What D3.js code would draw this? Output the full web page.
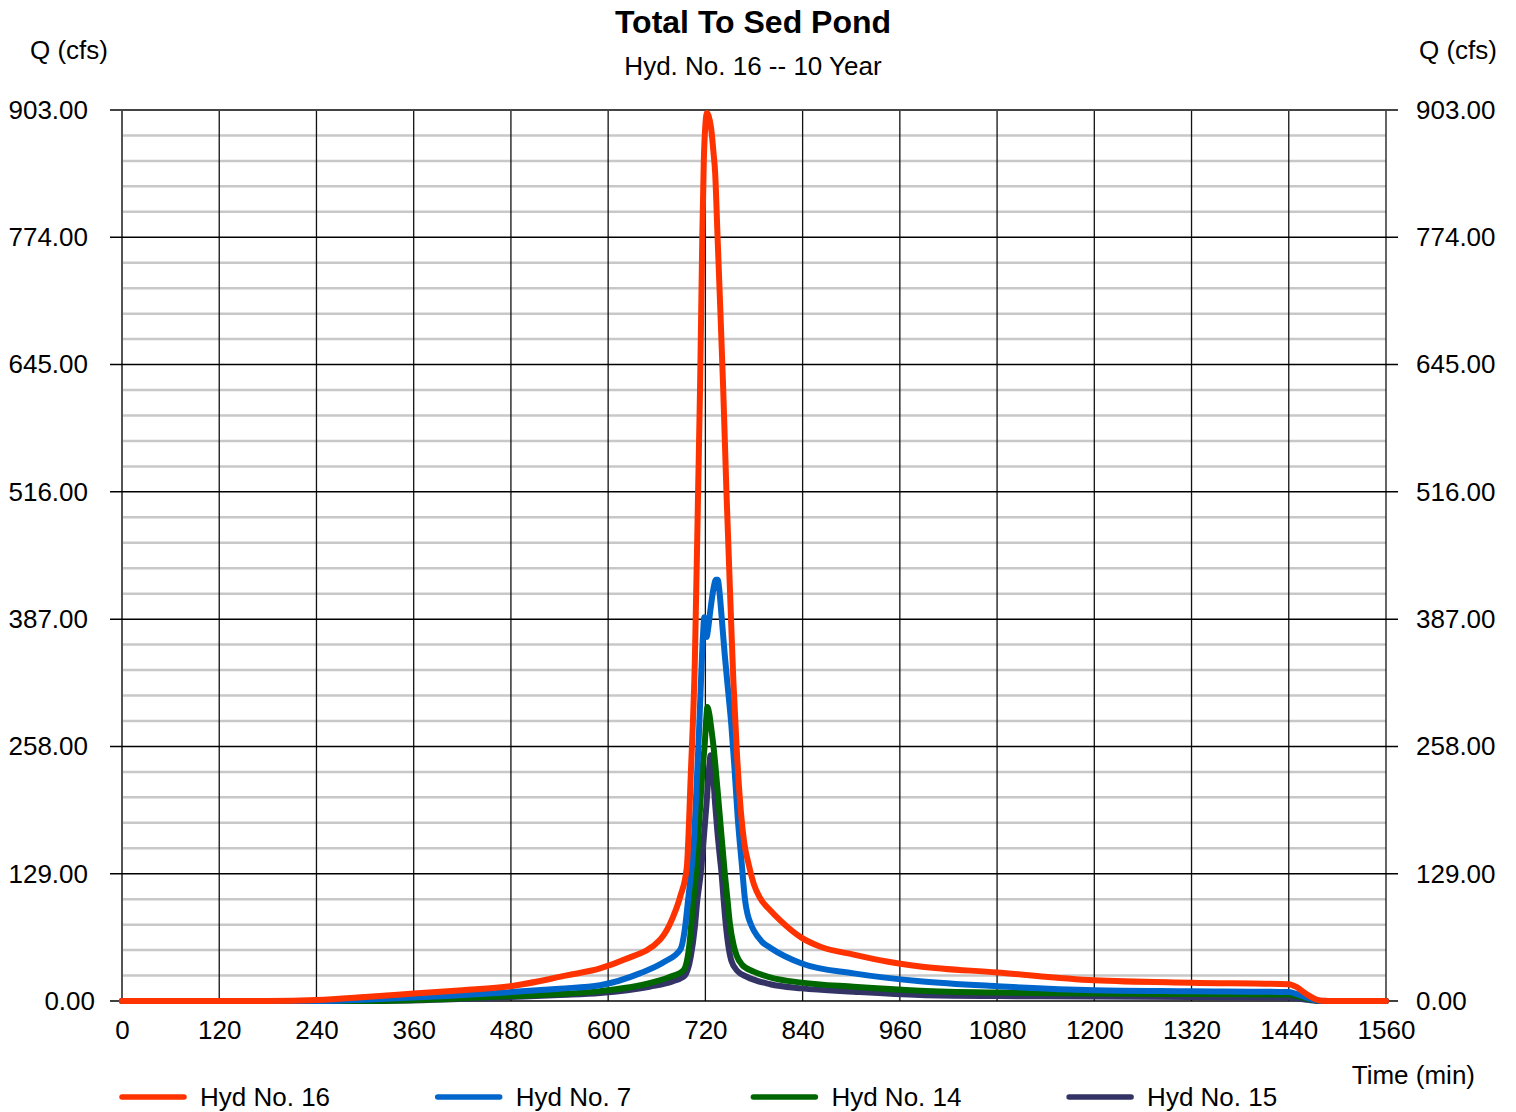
<!DOCTYPE html>
<meta charset="utf-8">
<head>
<style>
body { margin: 0; background: #fff; }
text { font-family: "Liberation Sans", Arial, sans-serif; fill: #000; }
.line { fill: none; stroke-width: 6px; stroke-linejoin: round; stroke-linecap: round; }
</style>
</head>
<body>
<script src="https://d3js.org/d3.v7.min.js"></script>
<script>

// x ticks (min) and y ticks (cfs)
var xTicks = [0, 120, 240, 360, 480, 600, 720, 840, 960, 1080, 1200, 1320, 1440, 1560];
var yTicks = [0, 129, 258, 387, 516, 645, 774, 903];

var seriesNames = ["Hyd No. 16", "Hyd No. 7", "Hyd No. 14", "Hyd No. 15"];
var seriesColors = ["#ff3300", "#0066cc", "#006600", "#333366"];

// Hyd No. 16 -- total
var hyd16Time = [0, 180, 240, 300, 360, 420, 479, 549, 590, 620, 664, 680, 689, 697, 702, 707, 711, 713.5, 716.2, 718, 720, 722, 724, 727, 730, 732, 735, 738, 742, 746, 751.6, 754.5, 759, 764, 768, 773, 780, 787, 800, 812, 839, 862, 903, 944, 985, 1080, 1200, 1320, 1440, 1450, 1460, 1470, 1478, 1490, 1560];
var hyd16Q    = [0, 0, 1, 4, 7.5, 11, 15, 26, 33, 42, 62, 85, 106, 135, 230, 345, 516, 625, 775, 850, 888, 900, 897, 885, 860, 840, 775, 710, 620, 516, 388, 325, 250, 190, 160, 140, 118, 105, 92, 82, 64, 55, 47, 40, 35, 29, 21, 18.5, 17, 14, 8, 3, 0.5, 0, 0];

// Hyd No. 7
var hyd7Time = [0, 240, 318, 400, 479, 540, 590, 639, 670, 689, 695, 699, 703, 706, 709, 712, 714.6, 717, 718.7, 720, 721.6, 723, 726, 730, 733, 735.2, 737, 740, 744, 748, 752, 756, 760, 765, 769, 772, 776, 780, 790, 800, 839, 903, 985, 1080, 1200, 1320, 1440, 1450, 1460, 1470, 1480, 1560];
var hyd7Q    = [0, 0, 2, 5, 9, 12.5, 16, 28, 40, 52, 75, 105, 135, 165, 215, 270, 325, 370, 389, 378, 369, 375, 395, 418, 427, 427, 418, 390, 350, 315, 280, 235, 185, 138, 102, 88, 78, 71, 60, 54, 38, 28, 20, 15, 11, 10, 9, 7, 4, 1.5, 0, 0];

// Hyd No. 14
var hyd14Time = [0, 300, 400, 479, 540, 590, 651, 675, 692.8, 700, 705, 708.4, 713, 717, 719, 721, 722.4, 725, 727, 730, 737, 744, 747, 750, 755, 758.6, 765, 779, 800, 839, 903, 985, 1080, 1200, 1320, 1440, 1450, 1460, 1470, 1480, 1560];
var hyd14Q    = [0, 0, 2, 5, 7, 10, 18, 24, 31, 55, 102, 129, 190, 240, 258, 285, 298, 290, 278, 258, 195, 129, 105, 80, 56, 46, 37, 30, 24, 18.6, 14.5, 10.5, 8.5, 7.5, 7, 6.5, 5, 3, 1, 0, 0];

// Hyd No. 15
var hyd15Time = [0, 300, 400, 479, 540, 590, 651, 680, 694.8, 702, 707, 710, 714.2, 718, 721.4, 724, 726.5, 729, 732, 735, 738, 740, 742, 744, 748, 752, 760, 771, 800, 839, 903, 985, 1080, 1200, 1320, 1440, 1450, 1460, 1470, 1480, 1560];
var hyd15Q    = [0, 0, 1.5, 4, 6, 8, 14.5, 20, 26, 45, 75, 102, 129, 165, 200, 230, 249, 235, 200, 170, 145, 129, 108, 88, 58, 41, 30, 24.6, 17, 12.8, 9.4, 6.1, 5, 4.5, 4, 3.5, 2.5, 1.5, 0.5, 0, 0];

var seriesTimes = [hyd16Time, hyd7Time, hyd14Time, hyd15Time];
var seriesQ = [hyd16Q, hyd7Q, hyd14Q, hyd15Q];

var W = 1516, H = 1112;
var margin = {top: 110, left: 122, right: 130, bottom: 111};
var width = W - margin.left - margin.right,
    height = H - margin.top - margin.bottom;

var x = d3.scaleLinear().domain([0, 1560]).range([0, width]);
var y = d3.scaleLinear().domain([0, 903]).range([height, 0]);

var svg = d3.select("body").append("svg")
    .attr("width", W)
    .attr("height", H);

var g = svg.append("g")
    .attr("transform", "translate(" + margin.left + "," + margin.top + ")");

// minor horizontal grid (5 per major step)
var minor = d3.range(0, 903.01, 25.8).filter(function(v) {
  return Math.abs(v / 129 - Math.round(v / 129)) > 0.01;
});
g.selectAll(".minor").data(minor).enter().append("line")
    .attr("x1", 0).attr("x2", width)
    .attr("y1", function(d) { return y(d); })
    .attr("y2", function(d) { return y(d); })
    .attr("stroke", "#c8c8c8").attr("stroke-width", 2.5);

// vertical grid
g.selectAll(".vgrid").data(xTicks).enter().append("line")
    .attr("x1", function(d) { return x(d); })
    .attr("x2", function(d) { return x(d); })
    .attr("y1", 0).attr("y2", height)
    .attr("stroke", function(d) { return d === 0 ? "#555" : "#111"; })
    .attr("stroke-width", function(d) { return d === 0 ? 2 : 1.3; });

// major horizontal grid (with ticks out both sides)
g.selectAll(".hgrid").data(yTicks).enter().append("line")
    .attr("x1", -12).attr("x2", width + 12)
    .attr("y1", function(d) { return y(d); })
    .attr("y2", function(d) { return y(d); })
    .attr("stroke", function(d) { return d === 903 ? "#444" : "#000"; })
    .attr("stroke-width", function(d) { return d === 903 ? 2 : 1.5; });

// left axis labels
var yl = g.append("g")
    .call(d3.axisLeft(y).tickValues(yTicks).tickSize(0).tickPadding(34)
      .tickFormat(d3.format(".2f")))
    .call(function(a) { a.select(".domain").remove(); });
yl.selectAll("text").style("font-size", "26px")
    .attr("dx", function(d) { return d === 0 ? 7 : 0; }); // 0.00 sits a bit further right

// right axis labels
g.append("g")
    .attr("transform", "translate(" + width + ",0)")
    .call(d3.axisRight(y).tickValues(yTicks).tickSize(0).tickPadding(30)
      .tickFormat(d3.format(".2f")))
    .call(function(a) { a.select(".domain").remove(); })
    .selectAll("text").style("font-size", "26px");

// bottom axis labels
g.append("g")
    .attr("transform", "translate(0," + height + ")")
    .call(d3.axisBottom(x).tickValues(xTicks).tickSize(0).tickPadding(20)
      .tickFormat(d3.format("d")))
    .call(function(a) { a.select(".domain").remove(); })
    .selectAll("text").style("font-size", "26px");

// series lines
var line = d3.line()
    .x(function(d) { return x(d[0]); })
    .y(function(d) { return y(d[1]); })
    .curve(d3.curveMonotoneX);

// draw back to front so the total sits on top
[3, 2, 1, 0].forEach(function(i) {
  var pts = seriesTimes[i].map(function(t, k) { return [t, seriesQ[i][k]]; });
  g.append("path")
      .datum(pts)
      .attr("class", "line")
      .attr("stroke", seriesColors[i])
      .attr("d", line);
});

// titles
svg.append("text")
    .attr("x", 753).attr("y", 33)
    .attr("text-anchor", "middle")
    .style("font-size", "32px").style("font-weight", "bold")
    .text("Total To Sed Pond");
svg.append("text")
    .attr("x", 753).attr("y", 75)
    .attr("text-anchor", "middle")
    .style("font-size", "26px")
    .text("Hyd. No. 16 -- 10 Year");

svg.append("text")
    .attr("x", 30).attr("y", 59)
    .style("font-size", "26px")
    .text("Q (cfs)");
svg.append("text")
    .attr("x", 1497).attr("y", 59)
    .attr("text-anchor", "end")
    .style("font-size", "26px")
    .text("Q (cfs)");
svg.append("text")
    .attr("x", 1475).attr("y", 1084)
    .attr("text-anchor", "end")
    .style("font-size", "26px")
    .text("Time (min)");

// legend
var legend = svg.selectAll(".legend").data(seriesNames).enter().append("g")
    .attr("transform", function(d, i) { return "translate(" + (122 + i * 315.7) + ",1097)"; });
legend.append("line")
    .attr("x1", 0).attr("x2", 62)
    .attr("stroke", function(d, i) { return seriesColors[i]; })
    .attr("stroke-width", 5.5)
    .attr("stroke-linecap", "round");
legend.append("text")
    .attr("x", 78).attr("y", 9)
    .style("font-size", "26px")
    .text(function(d) { return d; });

</script>
</body>
